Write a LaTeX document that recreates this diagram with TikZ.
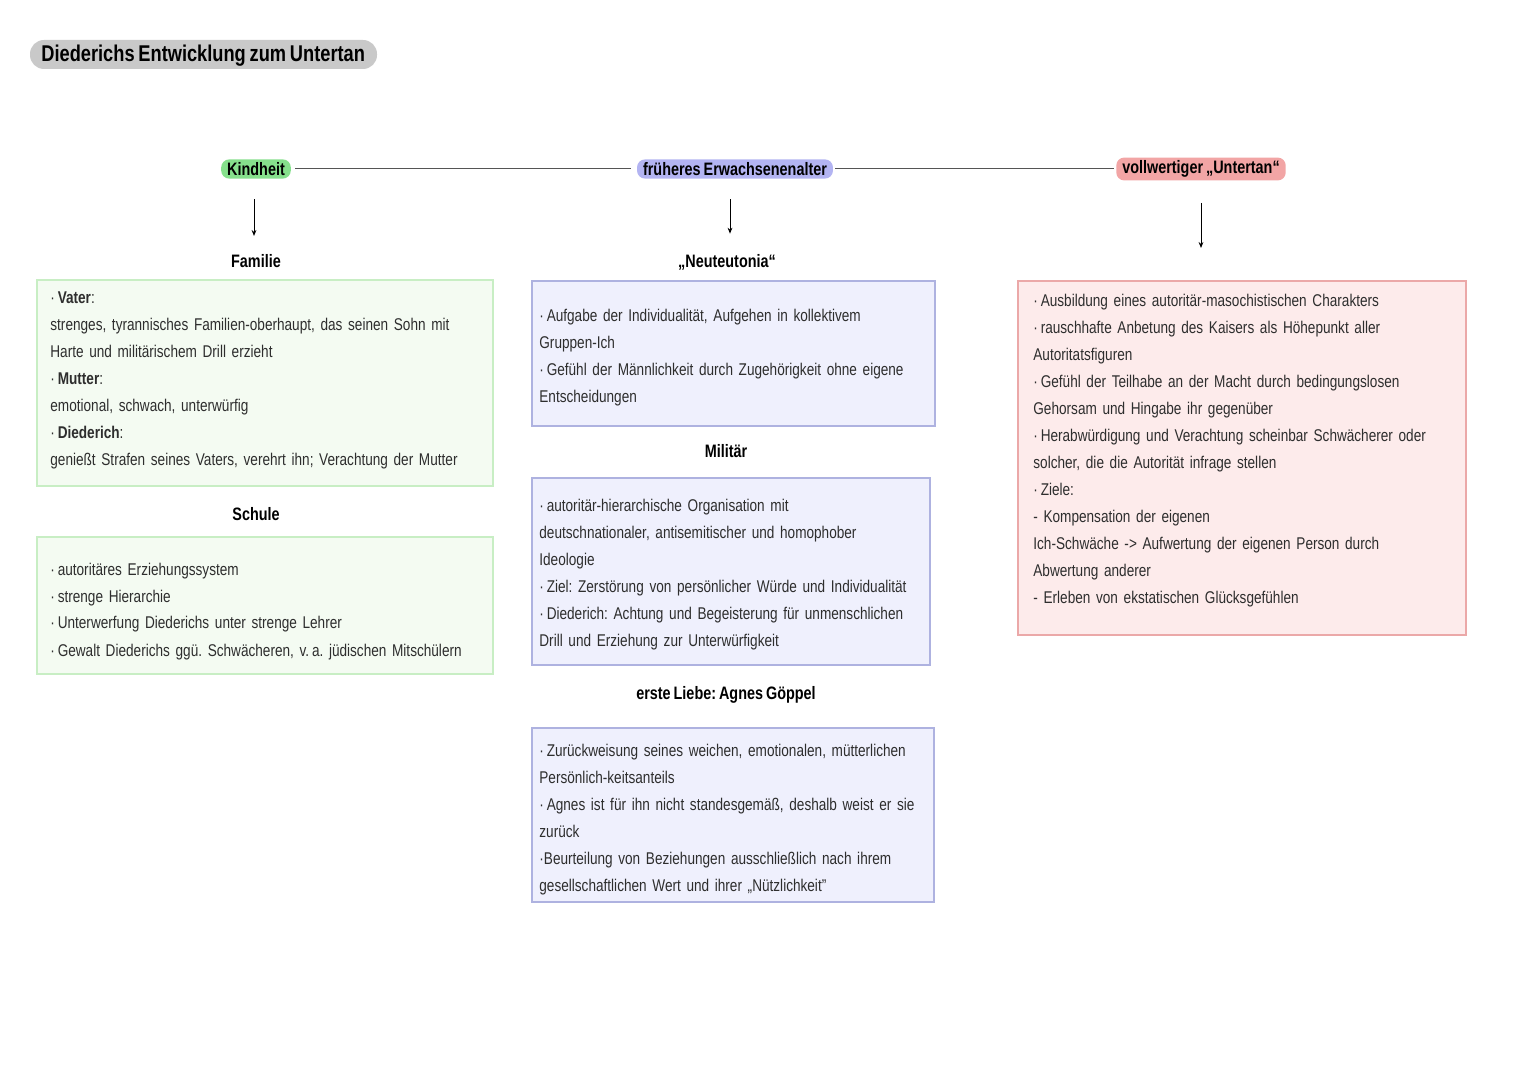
\documentclass[tikz,border=0pt]{standalone}
\usepackage{fontspec}
\setmainfont{Liberation Sans}[FakeStretch=0.8, WordSpace=0.75]
\usetikzlibrary{arrows.meta}
\frenchspacing
\definecolor{txt}{HTML}{2E2E2E}
\definecolor{titlegray}{HTML}{C9C9C9}
\definecolor{hlgreen}{HTML}{86E08C}
\definecolor{hlblue}{HTML}{B3B4F2}
\definecolor{hlred}{HTML}{F2A5A5}
\definecolor{gborder}{HTML}{C8EEC4}
\definecolor{gfill}{HTML}{F4FBF2}
\definecolor{bborder}{HTML}{AEB2E0}
\definecolor{bfill}{HTML}{EFF0FD}
\definecolor{rborder}{HTML}{EBA8A8}
\definecolor{rfill}{HTML}{FDEBEB}
\definecolor{linegray}{HTML}{555555}
\tikzset{
  panel/.style={draw=#1border, fill=#1fill, line width=0.8pt},
  bodytext/.style={anchor=base west, inner sep=0pt, align=left, text=txt,
    font=\fontsize{8.5}{13.5}\selectfont\frenchspacing},
  heading/.style={font=\fontsize{9}{11}\selectfont\bfseries, inner sep=1pt},
  phase/.style={font=\fontsize{9}{11}\selectfont\bfseries, rounded corners=4pt,
    inner xsep=3pt, inner ysep=1.5pt, fill=#1},
  timeline/.style={draw=linegray, line width=0.5pt},
  downarrow/.style={draw=black, line width=0.5pt, -{Stealth[length=3pt,width=2.4pt]}}
}
\newcommand{\bul}{·\,}
\begin{document}
\begin{tikzpicture}[x=0.5pt,y=-0.5pt]
\useasboundingbox (0,0) rectangle (1527,1080);
\fill[white] (0,0) rectangle (1527,1080);

% title
\fill[titlegray, rounded corners=7pt] (30,40) rectangle (377,69);
\node[anchor=west, inner sep=0pt, font=\fontsize{11.4}{14}\selectfont\bfseries] (title) at (41,56) {Diederichs Entwicklung zum Untertan};

% phases
\node[phase=hlgreen] (kind) at (256,169) {Kindheit};
\node[phase=hlblue] (frueh) at (735,169) {früheres Erwachsenenalter};
\node[phase=hlred] (voll) at (1201,169) {vollwertiger „Untertan“};
\draw[timeline] ([xshift=2pt]kind.east) -- ([xshift=-3pt]frueh.west);
\draw[timeline] ([xshift=1pt]frueh.east) -- ([xshift=-1pt]voll.west);

% headings
\node[heading] (familie) at (256,261) {Familie};
\node[heading] (schule) at (256,514) {Schule};
\node[heading] (neut) at (727,262) {„Neuteutonia“};
\node[heading] (milit) at (726,451) {Militär};
\node[heading] (liebe) at (726,695) {erste Liebe: Agnes Göppel};

% boxes
\draw[panel=g] (37,280) rectangle (493,486);
\draw[panel=g] (37,537) rectangle (493,674);
\draw[panel=b] (532,281) rectangle (935,426);
\draw[panel=b] (532,478) rectangle (930,665);
\draw[panel=b] (532,728) rectangle (934,902);
\draw[panel=r] (1018,281) rectangle (1466,635);
\coordinate (ubox) at (1201,281);

% arrows
\draw[downarrow] ([xshift=-1pt,yshift=-10pt]kind.south) -- ([xshift=-1pt,yshift=8pt]familie.north);
\draw[downarrow] ([xshift=-2.5pt,yshift=-10pt]frueh.south) -- ([xshift=1.5pt,yshift=9pt]neut.north);
\draw[downarrow] ([yshift=-11pt]voll.south) -- ([yshift=16.5pt]ubox);

% texts
\node[bodytext, text width=230pt] (tfam) at (50,304) {%
\bul\textbf{Vater}:\\
strenges, tyrannisches Familien-oberhaupt, das seinen Sohn mit\\
Harte und militärischem Drill erzieht\\
\bul\textbf{Mutter}:\\
emotional, schwach, unterwürfig\\
\bul\textbf{Diederich}:\\
genießt Strafen seines Vaters, verehrt ihn; Verachtung der Mutter};

\node[bodytext, text width=230pt] (tschule) at (50,575) {%
\bul autoritäres Erziehungssystem\\
\bul strenge Hierarchie\\
\bul Unterwerfung Diederichs unter strenge Lehrer\\
\bul Gewalt Diederichs ggü. Schwächeren, v.\,a. jüdischen Mitschülern};

\node[bodytext, text width=200pt] (tneut) at (539,322) {%
\bul Aufgabe der Individualität, Aufgehen in kollektivem\\
Gruppen-Ich\\
\bul Gefühl der Männlichkeit durch Zugehörigkeit ohne eigene\\
Entscheidungen};

\node[bodytext, text width=200pt] (tmil) at (539,512) {%
\bul autoritär-hierarchische Organisation mit\\
deutschnationaler, antisemitischer und homophober\\
Ideologie\\
\bul Ziel: Zerstörung von persönlicher Würde und Individualität\\
\bul Diederich: Achtung und Begeisterung für unmenschlichen\\
Drill und Erziehung zur Unterwürfigkeit};

\node[bodytext, text width=200pt] (tlieb) at (539,756) {%
\bul Zurückweisung seines weichen, emotionalen, mütterlichen\\
Persönlich-keitsanteils\\
\bul Agnes ist für ihn nicht standesgemäß, deshalb weist er sie\\
zurück\\
·Beurteilung von Beziehungen ausschließlich nach ihrem\\
gesellschaftlichen Wert und ihrer „Nützlichkeit"};

\node[bodytext, text width=220pt] (tvoll) at (1033,307) {%
\bul Ausbildung eines autoritär-masochistischen Charakters\\
\bul rauschhafte Anbetung des Kaisers als Höhepunkt aller\\
Autoritatsfiguren\\
\bul Gefühl der Teilhabe an der Macht durch bedingungslosen\\
Gehorsam und Hingabe ihr gegenüber\\
\bul Herabwürdigung und Verachtung scheinbar Schwächerer oder\\
solcher, die die Autorität infrage stellen\\
\bul Ziele:\\
- Kompensation der eigenen\\
Ich-Schwäche -> Aufwertung der eigenen Person durch\\
Abwertung anderer\\
- Erleben von ekstatischen Glücksgefühlen};
\end{tikzpicture}
\end{document}
